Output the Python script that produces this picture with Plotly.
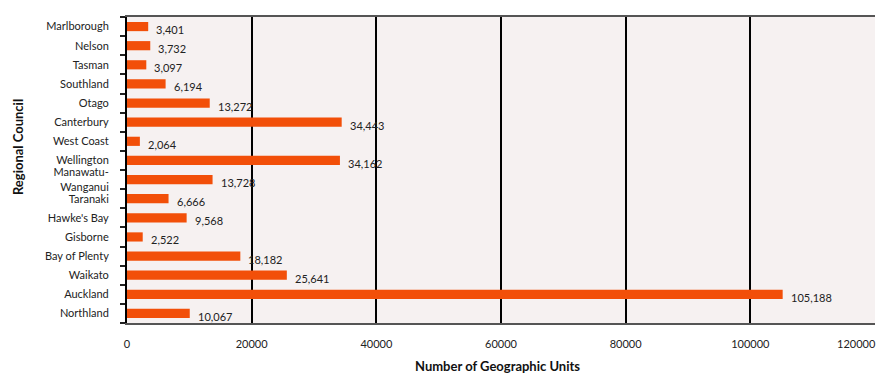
import plotly.graph_objects as go

# Regional councils, listed bottom to top as drawn on the category axis
regions = [
    "Northland", "Auckland", "Waikato", "Bay of Plenty", "Gisborne",
    "Hawke's Bay", "Taranaki", "Manawatu-<br>Wanganui", "Wellington",
    "West Coast", "Canterbury", "Otago", "Southland", "Tasman",
    "Nelson", "Marlborough",
]
units = [
    10067, 105188, 25641, 18182, 2522,
    9568, 6666, 13728, 34162,
    2064, 34443, 13272, 6194, 3097,
    3732, 3401,
]
x_ticks = [0, 20000, 40000, 60000, 80000, 100000, 120000]

FONT = "Lato, 'Open Sans', sans-serif"
BAR = "#f24f09"

fig = go.Figure()
fig.add_trace(go.Bar(
    x=units, y=regions, orientation="h",
    marker=dict(color=BAR, line=dict(width=0)),
    width=0.48,
    hoverinfo="skip",
))

# Value labels to the right of each bar
for r, v in zip(regions, units):
    fig.add_annotation(
        x=v, y=r, xref="x", yref="y",
        text=f"{v:,}", showarrow=False,
        xanchor="left", yanchor="middle",
        xshift=6, yshift=-3,
        font=dict(family=FONT, size=11, color="#222"),
    )

# The last tick label sits at the page edge, so it is right-aligned to stay visible
tick_text = [str(t) for t in x_ticks]
last_label = tick_text[-1]
tick_text[-1] = ""
fig.add_annotation(
    x=x_ticks[-1], y=0, xref="x", yref="paper",
    text=last_label, showarrow=False,
    xanchor="right", yanchor="top", xshift=3, yshift=-12,
    font=dict(family=FONT, size=11, color="#222"),
)

# Axis titles
fig.add_annotation(
    x=-0.1457, y=0.575, xref="paper", yref="paper",
    text="<b>Regional Council</b>", textangle=-90, showarrow=False,
    xanchor="center", yanchor="middle",
    font=dict(family=FONT, size=13, color="#111"),
)
fig.add_annotation(
    x=0.4947, y=-0.1735, xref="paper", yref="paper",
    text="<b>Number of Geographic Units</b>", showarrow=False,
    xanchor="center", yanchor="bottom",
    font=dict(family=FONT, size=13, color="#111"),
)

fig.update_layout(
    width=880, height=376,
    margin=dict(l=127, r=5, t=17, b=53, autoexpand=False),
    paper_bgcolor="white",
    plot_bgcolor="#f6f1f1",
    showlegend=False,
    bargap=0.5,
    font=dict(family=FONT, color="#222"),
    xaxis=dict(
        range=[0, 120000],
        tickvals=x_ticks,
        ticktext=tick_text,
        tickfont=dict(family=FONT, size=11, color="#222"),
        ticklabeloverflow="allow",
        automargin=False,
        showgrid=True, gridcolor="#000", gridwidth=2,
        showline=True, linecolor="#555", linewidth=1.5, mirror=True,
        ticks="", zeroline=False,
        ticklabelstandoff=10,
    ),
    yaxis=dict(
        categoryorder="array", categoryarray=regions,
        tickfont=dict(family=FONT, size=11, color="#222"),
        automargin=False,
        showline=True, linecolor="#000", linewidth=2,
        ticks="outside", tickson="boundaries", ticklen=5,
        tickwidth=2, tickcolor="#222",
        ticklabelstandoff=14,
        showgrid=False, zeroline=False,
        range=[-0.5, 15.5],
    ),
)

fig.write_html("out.html")
